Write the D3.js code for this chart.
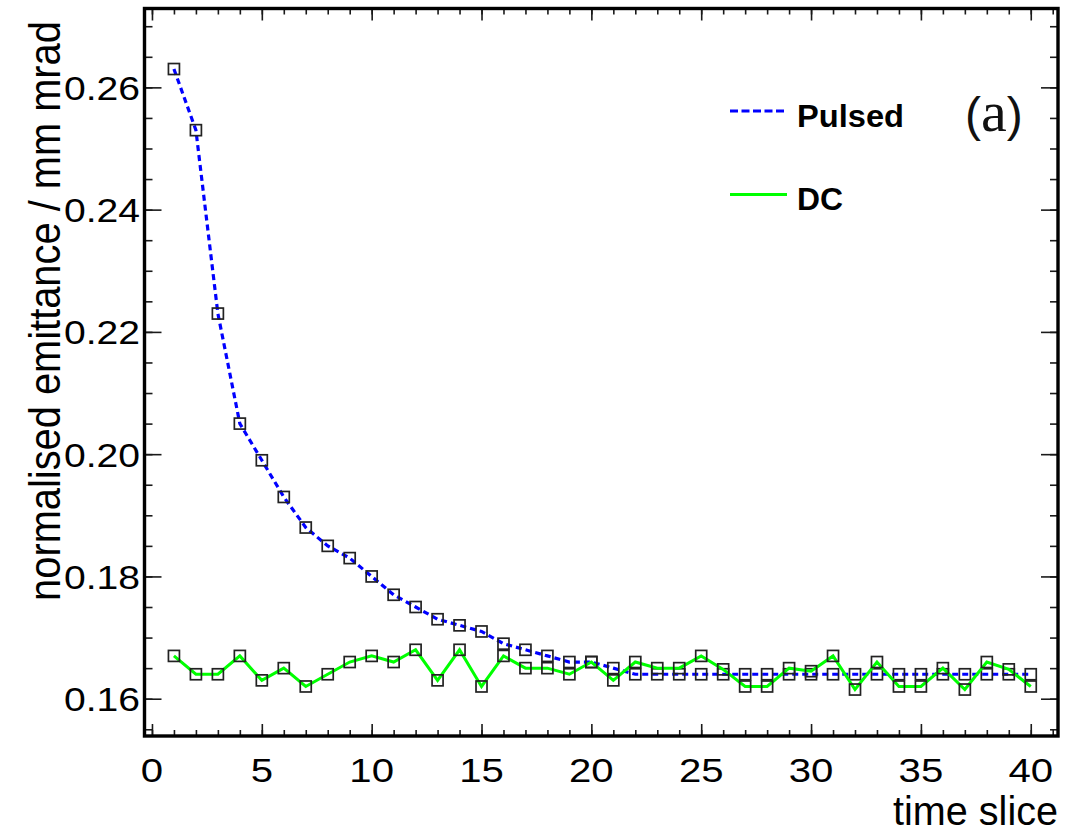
<!DOCTYPE html>
<html>
<head>
<meta charset="utf-8">
<script src="https://cdn.jsdelivr.net/npm/d3@7"></script>
<style>
html,body{margin:0;padding:0;background:#fff;}
svg{display:block;}
text{font-family:"Liberation Sans",Arial,Helvetica,sans-serif;}
</style>
</head>
<body>
<svg id="chart" width="1086" height="834"></svg>
<script>
// ---------------- data ----------------
const slices = [1,2,3,4,5,6,7,8,9,10,11,12,13,14,15,16,17,18,19,20,
                21,22,23,24,25,26,27,28,29,30,31,32,33,34,35,36,37,38,39,40];
const pulsed = [0.263,0.253,0.223,0.205,0.199,0.193,0.188,0.185,0.183,0.180,
                0.177,0.175,0.173,0.172,0.171,0.169,0.168,0.167,0.166,0.166,
                0.165,0.164,0.164,0.164,0.164,0.164,0.164,0.164,0.164,0.164,
                0.164,0.164,0.164,0.164,0.164,0.164,0.164,0.164,0.164,0.164];
const dc = [0.167,0.164,0.164,0.167,0.163,0.165,0.162,0.164,0.166,0.167,
            0.166,0.168,0.163,0.168,0.162,0.167,0.165,0.165,0.164,0.166,
            0.163,0.166,0.165,0.165,0.167,0.1648,0.162,0.162,0.165,0.1645,
            0.167,0.1615,0.166,0.162,0.162,0.165,0.1615,0.166,0.1648,0.162];
const xTickValues = [0,5,10,15,20,25,30,35,40];
const xTickLabels = ["0","5","10","15","20","25","30","35","40"];
const yTickValues = [0.16,0.18,0.20,0.22,0.24,0.26];
const yTickLabels = ["0.16","0.18","0.20","0.22","0.24","0.26"];
const seriesNames = ["Pulsed","DC"];
const xTitle = "time slice";
const yTitle = "normalised emittance / mm mrad";
const panelLabel = ["(","a",")"];

// ---------------- layout ----------------
const svg = d3.select("#chart");
const frame = {left:144.5, right:1058, top:8.5, bottom:736};
const x = d3.scaleLinear().domain([-0.34, 41.24]).range([frame.left, frame.right]);
const y = d3.scaleLinear().domain([0.1539, 0.2729]).range([frame.bottom, frame.top]);

const xMinor = d3.range(0, 42, 1);
const yMinor = d3.range(0.155, 0.2701, 0.005);

const tickColor = "#1a1a1a";
function styleAxis(g){
  g.select(".domain").remove();
  g.selectAll("line").attr("stroke", tickColor).attr("stroke-width", 1.6);
  g.selectAll("text").remove();
}

// ticks
svg.append("g").attr("transform",`translate(0,${frame.bottom})`)
  .call(d3.axisBottom(x).tickValues(xMinor).tickSize(-6)).call(styleAxis);
svg.append("g").attr("transform",`translate(0,${frame.bottom})`)
  .call(d3.axisBottom(x).tickValues(xTickValues).tickSize(-12)).call(styleAxis);
svg.append("g").attr("transform",`translate(0,${frame.top})`)
  .call(d3.axisTop(x).tickValues(xMinor).tickSize(-6)).call(styleAxis);
svg.append("g").attr("transform",`translate(0,${frame.top})`)
  .call(d3.axisTop(x).tickValues(xTickValues).tickSize(-12)).call(styleAxis);
svg.append("g").attr("transform",`translate(${frame.left},0)`)
  .call(d3.axisLeft(y).tickValues(yMinor).tickSize(-8)).call(styleAxis);
svg.append("g").attr("transform",`translate(${frame.left},0)`)
  .call(d3.axisLeft(y).tickValues(yTickValues).tickSize(-17)).call(styleAxis);
svg.append("g").attr("transform",`translate(${frame.right},0)`)
  .call(d3.axisRight(y).tickValues(yMinor).tickSize(-8)).call(styleAxis);
svg.append("g").attr("transform",`translate(${frame.right},0)`)
  .call(d3.axisRight(y).tickValues(yTickValues).tickSize(-17)).call(styleAxis);

// frame
svg.append("rect")
  .attr("x", frame.left).attr("y", frame.top)
  .attr("width", frame.right - frame.left).attr("height", frame.bottom - frame.top)
  .attr("fill","none").attr("stroke","#000").attr("stroke-width",3.4);

// tick labels
svg.append("g").selectAll("text").data(yTickValues).join("text")
  .attr("transform", d => `translate(140,${y(d)+12.5}) scale(1.15,1)`)
  .attr("text-anchor","end").attr("font-size",34).attr("fill","#000")
  .text((d,i) => yTickLabels[i]);
svg.append("g").selectAll("text").data(xTickValues).join("text")
  .attr("transform", d => `translate(${x(d)},782) scale(1.18,1)`)
  .attr("text-anchor","middle").attr("font-size",34).attr("fill","#000")
  .text((d,i) => xTickLabels[i]);

// axis titles (condensed via transform so the box matches the drawn length)
const yT = svg.append("text")
  .attr("text-anchor","middle").attr("font-size",44)
  .attr("fill","#000").text(yTitle);
const yNat = yT.node().getComputedTextLength() || 640;
yT.attr("transform",`translate(60,311) rotate(-90) scale(${580/yNat},1)`);

const xT = svg.append("text")
  .attr("text-anchor","end").attr("font-size",41)
  .attr("fill","#000").text(xTitle);
const xNat = xT.node().getComputedTextLength() || 170;
xT.attr("transform",`translate(1058,825) scale(${165/xNat},1)`);

// series
const pData = slices.map((s,i)=>({s, v:pulsed[i]}));
const dData = slices.map((s,i)=>({s, v:dc[i]}));
const line = d3.line().x(d=>x(d.s)).y(d=>y(d.v));

svg.append("path").datum(pData).attr("d",line)
  .attr("fill","none").attr("stroke","#0000ff").attr("stroke-width",3.2)
  .attr("stroke-dasharray","6,4");
svg.append("g").selectAll("rect").data(pData).join("rect")
  .attr("x",d=>x(d.s)-5.5).attr("y",d=>y(d.v)-5.5)
  .attr("width",11).attr("height",11)
  .attr("fill","none").attr("stroke","#222").attr("stroke-width",1.7);

svg.append("path").datum(dData).attr("d",line)
  .attr("fill","none").attr("stroke","#00ff00").attr("stroke-width",3);
svg.append("g").selectAll("rect").data(dData).join("rect")
  .attr("x",d=>x(d.s)-5.5).attr("y",d=>y(d.v)-5.5)
  .attr("width",11).attr("height",11)
  .attr("fill","none").attr("stroke","#222").attr("stroke-width",1.7);

// legend
svg.append("line").attr("x1",730).attr("x2",786).attr("y1",111).attr("y2",111)
  .attr("stroke","#0000ff").attr("stroke-width",3.2).attr("stroke-dasharray","8,3.5");
svg.append("line").attr("x1",730).attr("x2",787).attr("y1",194.5).attr("y2",194.5)
  .attr("stroke","#00ff00").attr("stroke-width",3.2);
svg.append("text").attr("x",797).attr("y",127).attr("font-size",32).attr("font-weight","bold")
  .attr("textLength",107).attr("lengthAdjust","spacingAndGlyphs").attr("fill","#000")
  .text(seriesNames[0]);
svg.append("text").attr("x",797).attr("y",210).attr("font-size",32).attr("font-weight","bold")
  .attr("textLength",46).attr("lengthAdjust","spacingAndGlyphs").attr("fill","#000")
  .text(seriesNames[1]);

// panel label
const pl = svg.append("text").attr("x",965).attr("y",131)
  .attr("font-family","'Liberation Serif','Times New Roman',serif").attr("font-size",48).attr("fill","#111");
pl.append("tspan").text(panelLabel[0]);
pl.append("tspan").attr("font-size",58).attr("font-family","'Liberation Serif','Times New Roman',serif").text(panelLabel[1]);
pl.append("tspan").text(panelLabel[2]);
</script>
</body>
</html>
